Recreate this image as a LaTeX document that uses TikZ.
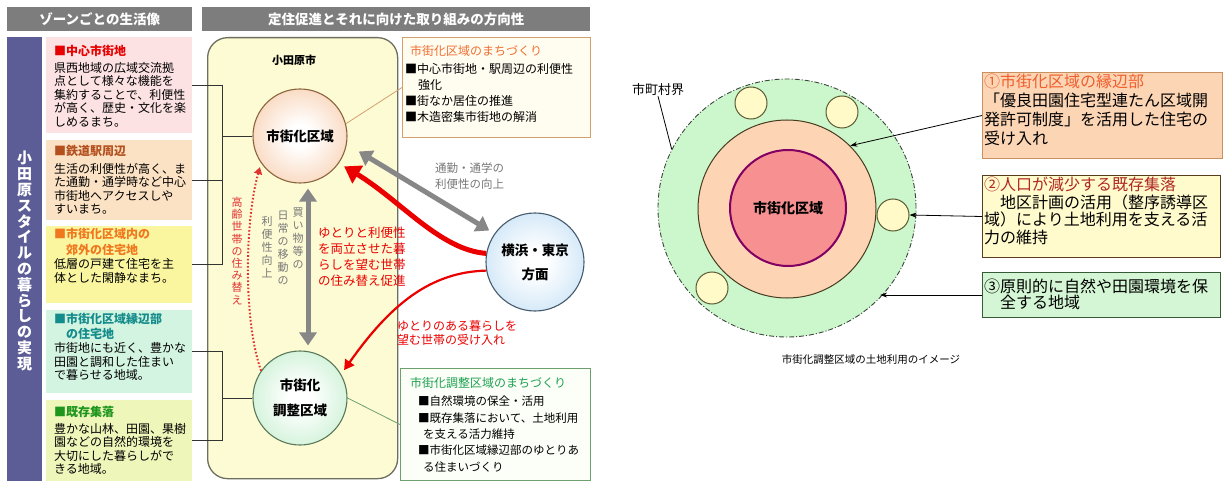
\documentclass[tikz,border=0pt]{standalone}
\usepackage{fontspec}
\setmainfont{Noto Sans CJK JP}
\usetikzlibrary{arrows.meta,calc}

\definecolor{hdr}{RGB}{125,125,125}
\definecolor{barc}{RGB}{92,92,150}
\definecolor{zpink}{RGB}{253,226,228}
\definecolor{zpeach}{RGB}{252,226,196}
\definecolor{zyellow}{RGB}{250,246,160}
\definecolor{zmint}{RGB}{212,244,226}
\definecolor{zlime}{RGB}{238,246,186}
\definecolor{tred}{RGB}{230,0,0}
\definecolor{tbrown}{RGB}{180,80,30}
\definecolor{torange}{RGB}{240,120,30}
\definecolor{tteal}{RGB}{20,140,140}
\definecolor{tgreen}{RGB}{30,150,30}
\definecolor{cityfill}{RGB}{253,251,212}
\definecolor{cityline}{RGB}{110,110,95}
\definecolor{cuout}{RGB}{244,178,128}
\definecolor{culine}{RGB}{140,100,60}
\definecolor{clout}{RGB}{165,230,180}
\definecolor{clline}{RGB}{90,120,90}
\definecolor{crout}{RGB}{165,208,240}
\definecolor{crline}{RGB}{70,90,110}
\definecolor{arrgray}{RGB}{135,135,135}
\definecolor{txtgray}{RGB}{120,120,120}
\definecolor{arrred}{RGB}{235,0,0}
\definecolor{dotred}{RGB}{225,50,50}
\definecolor{m1line}{RGB}{210,160,110}
\definecolor{m1fill}{RGB}{255,252,240}
\definecolor{m1title}{RGB}{240,110,50}
\definecolor{m2line}{RGB}{110,160,110}
\definecolor{m2fill}{RGB}{252,255,248}
\definecolor{m2title}{RGB}{30,160,80}
\definecolor{outerg}{RGB}{204,246,204}
\definecolor{odash}{RGB}{60,70,60}
\definecolor{ringfill}{RGB}{253,212,180}
\definecolor{ringline}{RGB}{70,60,30}
\definecolor{innerfill}{RGB}{247,144,144}
\definecolor{innerline}{RGB}{130,0,100}
\definecolor{sfill}{RGB}{255,250,200}
\definecolor{sline}{RGB}{90,90,50}
\definecolor{b1fill}{RGB}{252,213,181}
\definecolor{b1line}{RGB}{200,145,95}
\definecolor{b1title}{RGB}{240,95,45}
\definecolor{b2fill}{RGB}{255,251,204}
\definecolor{b2line}{RGB}{90,60,30}
\definecolor{b2title}{RGB}{175,40,40}
\definecolor{b3fill}{RGB}{212,246,212}
\definecolor{b3line}{RGB}{55,90,55}

\pgfdeclareradialshading{cushade}{\pgfpoint{0bp}{0bp}}{color(0bp)=(white);color(6bp)=(white);color(48bp)=(cuout);color(100bp)=(cuout)}
\pgfdeclareradialshading{clshade}{\pgfpoint{0bp}{0bp}}{color(0bp)=(white);color(6bp)=(white);color(48bp)=(clout);color(100bp)=(clout)}
\pgfdeclareradialshading{crshade}{\pgfpoint{0bp}{0bp}}{color(0bp)=(white);color(6bp)=(white);color(48bp)=(crout);color(100bp)=(crout)}

\tikzset{
  hdrbox/.style={fill=hdr, text=white, anchor=north west, minimum height=24pt, inner sep=0pt, font=\bfseries\fontsize{13.5}{14}\selectfont},
  zbox/.style={anchor=north west, minimum width=146pt, inner sep=0pt},
  ztext/.style={anchor=north west, align=left, inner sep=0pt, font=\fontsize{12}{13.6}\selectfont},
  vtext/.style={anchor=north, align=center, inner sep=0pt},
  circ/.style={circle, inner sep=0pt, line width=1.1pt, align=center},
  mbox/.style={anchor=north west, line width=1pt, inner sep=0pt},
  conn/.style={draw=black!80, line width=0.8pt},
  garrow/.style={draw=arrgray, line width=5pt, {Triangle[length=13pt,width=17pt]}-{Triangle[length=13pt,width=17pt]}},
  rthick/.style={draw=arrred, line width=5pt, -{Triangle[length=16pt,width=20pt]}},
  rthin/.style={draw=arrred, line width=2.2pt, -{Triangle[length=10pt,width=11pt]}},
  rdot/.style={draw=dotred, line width=2pt, dash pattern=on 1.6pt off 2pt, -{Triangle[length=7pt,width=8pt]}},
  scirc/.style={circle, draw=sline, fill=sfill, line width=1pt, minimum size=32pt, inner sep=0pt},
  rbox/.style={anchor=north west, line width=1pt, inner sep=0pt},
  rtext/.style={anchor=north west, align=left, inner sep=0pt},
  rarrow/.style={draw=black, line width=0.8pt, -{Stealth[length=7pt,width=5pt]}}
}

\begin{document}
\begin{tikzpicture}[x=1pt,y=-1pt]
\useasboundingbox (0,0) rectangle (1223,481);
\fill[white] (0,0) rectangle (1223,481);

% headers
\node[hdrbox, minimum width=185pt] (h1) at (7,7) {ゾーンごとの生活像};
\node[hdrbox, minimum width=388pt] (h2) at (202,7) {定住促進とそれに向けた取り組みの方向性};

% left bar
\node[fill=barc, anchor=north west, minimum width=35pt, minimum height=444pt, inner sep=0pt] (bar) at (7,37) {};
\node[vtext, anchor=center, text=white, font=\bfseries\fontsize{15}{15.8}\selectfont] (bart) at (24.5,261) {小\\田\\原\\ス\\タ\\イ\\ル\\の\\暮\\ら\\し\\の\\実\\現};

% zone boxes
\node[zbox, fill=zpink, minimum height=96pt] (z1) at (46,37) {};
\node[zbox, fill=zpeach, minimum height=80pt] (z2) at (46,140) {};
\node[zbox, fill=zyellow, minimum height=77pt] (z3) at (46,226) {};
\node[zbox, fill=zmint, minimum height=83pt] (z4) at (46,310) {};
\node[zbox, fill=zlime, minimum height=81pt] (z5) at (46,400) {};

\node[ztext] (z1t) at (54,45) {\textcolor{tred}{\bfseries ■中心市街地}\\[3pt]県西地域の広域交流拠\\点として様々な機能を\\集約することで、利便性\\が高く、歴史・文化を楽\\しめるまち。};
\node[ztext] (z2t) at (54,145) {\textcolor{tbrown}{\bfseries ■鉄道駅周辺}\\[4pt]生活の利便性が高く、ま\\た通勤・通学時など中心\\市街地へアクセスしや\\すいまち。};
\node[ztext] (z3t) at (54,228) {\textcolor{torange}{\bfseries ■市街化区域内の}\\[2pt]\textcolor{torange}{\bfseries 　郊外の住宅地}\\[1pt]低層の戸建て住宅を主\\体とした閑静なまち。};
\node[ztext] (z4t) at (54,313) {\textcolor{tteal}{\bfseries ■市街化区域縁辺部}\\[1pt]\textcolor{tteal}{\bfseries 　の住宅地}\\[1pt]市街地にも近く、豊かな\\田園と調和した住まい\\で暮らせる地域。};
\node[ztext] (z5t) at (54,406) {\textcolor{tgreen}{\bfseries ■既存集落}\\[3pt]豊かな山林、田園、果樹\\園などの自然的環境を\\大切にした暮らしがで\\きる地域。};

% city frame
\node[draw=cityline, fill=cityfill, rounded corners=20pt, line width=1.3pt, anchor=north west, minimum width=190pt, minimum height=441pt, inner sep=0pt] (city) at (207,37) {};
\node[font=\bfseries\fontsize{11}{11}\selectfont, inner sep=0pt] (cityt) at (294,60) {小田原市};

% circles
\node[circ, draw=culine, shading=cushade, minimum size=94pt, font=\bfseries\fontsize{13.5}{14}\selectfont] (cu) at (300,136) {市街化区域};
\node[circ, draw=clline, shading=clshade, minimum size=94pt, font=\bfseries\fontsize{13.5}{25}\selectfont] (cl) at (300,398) {市街化\\調整区域};
\node[circ, draw=crline, shading=crshade, minimum size=98pt, font=\bfseries\fontsize{13.5}{24}\selectfont] (cr) at (535,262) {横浜・東京\\方面};

% brackets
\draw[conn] (z1.east) -- ++(30,0) coordinate (b1) -- (b1 |- z3.east) -- (z3.east);
\draw[conn] (z2.east) -- (z2.east -| b1);
\draw[conn] (b1 |- cu.west) -- (cu.west);
\draw[conn] (z4.east) -- ++(30,0) coordinate (b2) -- (b2 |- z5.east) -- (z5.east);
\draw[conn] (b2 |- cl.west) -- (cl.west);

% right boxes of middle panel
\node[mbox, draw=m1line, fill=m1fill, minimum width=188pt, minimum height=100pt] (m1) at (402,37) {};
\node[anchor=west, inner sep=0pt, text=m1title, font=\fontsize{12}{12}\selectfont] (m1h) at (410,51) {市街化区域のまちづくり};
\node[rtext, font=\fontsize{12}{16}\selectfont] (m1t) at (405,63) {■中心市街地・駅周辺の利便性\\\hspace{13pt}強化\\■街なか居住の推進\\■木造密集市街地の解消};
\node[mbox, draw=m2line, fill=m2fill, minimum width=190pt, minimum height=112pt] (m2) at (400,368) {};
\node[anchor=west, inner sep=0pt, text=m2title, font=\fontsize{12}{12}\selectfont] (m2h) at (410,383) {市街化調整区域のまちづくり};
\node[rtext, font=\fontsize{11.5}{16.3}\selectfont] (m2t) at (418,396) {■自然環境の保全・活用\\■既存集落において、土地利用\\\hspace{5pt}を支える活力維持\\■市街化区域縁辺部のゆとりあ\\\hspace{5pt}る住まいづくり};
\draw[draw=m1line, line width=0.8pt] (cu.15) -- (m1.west);
\draw[draw=m2line, line width=0.8pt] (cl.east) -- (m2.west);

% texts in middle
\node[vtext, text=dotred, font=\fontsize{11}{12.2}\selectfont] (told) at (237,197) {高\\齢\\世\\帯\\の\\住\\み\\替\\え};
\node[vtext, text=txtgray, font=\fontsize{11}{13}\selectfont] (tv1) at (298,208) {買\\い\\物\\等\\の};
\node[vtext, text=txtgray, font=\fontsize{11}{13}\selectfont] (tv2) at (283,211) {日\\常\\の\\移\\動\\の};
\node[vtext, text=txtgray, font=\fontsize{11}{13}\selectfont] (tv3) at (267,216) {利\\便\\性\\向\\上};
\node[rtext, text=arrred, font=\fontsize{12.5}{16}\selectfont] (tyr) at (318,227) {ゆとりと利便性\\を両立させた暮\\らしを望む世帯\\の住み替え促進};
\node[rtext, text=txtgray, font=\fontsize{11.5}{15.5}\selectfont] (tcom) at (435,163) {通勤・通学の\\利便性の向上};
\node[rtext, text=arrred, font=\fontsize{12}{14}\selectfont] (tacc) at (397,320) {ゆとりのある暮らしを\\望む世帯の受け入れ};

% arrows in middle
\draw[garrow, shorten <=14pt, shorten >=6pt] (cu.-10) -- (cr.145);
\draw[garrow, shorten <=5pt, shorten >=5pt] ([xshift=8pt]cu.south) -- ([xshift=8pt]cl.north);
\draw[rthick, shorten >=6pt] (cr.170) .. controls (440,250) and (400,200) .. (cu.-35);
\draw[rthin, shorten >=5pt] (cr.190) .. controls (430,272) and (390,305) .. (cl.30);
\draw[rdot, shorten >=4pt] (cl.145) .. controls (243,320) and (245,220) .. (cu.215);

% right panel
\node[circle, draw=odash, dash pattern=on 5pt off 2pt on 1pt off 2pt, fill=outerg, minimum size=258pt, line width=0.9pt, inner sep=0pt] (outer) at (787,208) {};
\node[circle, draw=ringline, fill=ringfill, minimum size=178pt, line width=1pt, inner sep=0pt] (ring) at (787,209) {};
\node[circle, draw=innerline, fill=innerfill, line width=2pt, minimum size=116pt, inner sep=0pt, font=\bfseries\fontsize{14}{14}\selectfont] (inner) at (788,208) {市街化区域};
\node[scirc] (s1) at (751,103) {};
\node[scirc] (s2) at (842,112) {};
\node[scirc] (s3) at (893,215) {};
\node[scirc] (s4) at (712,288) {};

\node[inner sep=0pt, font=\fontsize{13}{13}\selectfont] (lbl) at (658,90) {市町村界};
\draw[draw=black, line width=0.8pt] (lbl.south) -- (outer.153);

\node[rbox, draw=b1line, fill=b1fill, minimum width=240pt, minimum height=86pt] (rb1) at (982,72) {};
\node[rtext, font=\fontsize{16}{19}\selectfont] (rb1t) at (984,74) {\textcolor{b1title}{①市街化区域の縁辺部}\\「優良田園住宅型連たん区域開\\発許可制度」を活用した住宅の\\受け入れ};
\node[rbox, draw=b2line, fill=b2fill, minimum width=238pt, minimum height=82pt] (rb2) at (982,175) {};
\node[rtext, font=\fontsize{16}{17.5}\selectfont] (rb2t) at (984,177) {\textcolor{b2title}{②人口が減少する既存集落}\\　地区計画の活用（整序誘導区\\域）により土地利用を支える活\\力の維持};
\node[rbox, draw=b3line, fill=b3fill, minimum width=238pt, minimum height=45pt] (rb3) at (982,272) {};
\node[rtext, font=\fontsize{16}{16}\selectfont] (rb3t) at (984,279) {③原則的に自然や田園環境を保\\　全する地域};

\draw[rarrow] (rb1.west) -- (ring.45);
\draw[rarrow] (rb2.west) -- (s3.east);
\draw[rarrow] (rb3.west) -- (rb3.west -| outer.-44);

\node[inner sep=0pt, font=\fontsize{10.5}{10.5}\selectfont] (cap) at (871,360) {市街化調整区域の土地利用のイメージ};
\end{tikzpicture}
\end{document}
